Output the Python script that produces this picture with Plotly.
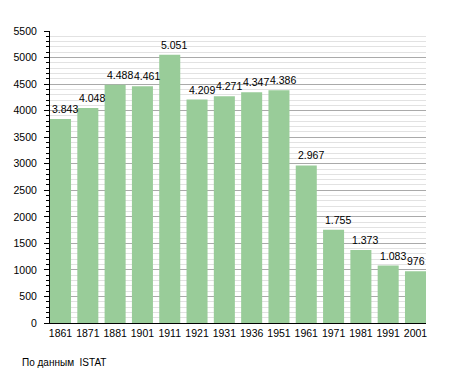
import plotly.graph_objects as go

years = ["1861", "1871", "1881", "1901", "1911", "1921", "1931", "1936",
         "1951", "1961", "1971", "1981", "1991", "2001"]
population = [3843, 4048, 4488, 4461, 5051, 4209, 4271, 4347,
              4386, 2967, 1755, 1373, 1083, 976]
value_labels = ["3.843", "4.048", "4.488", "4.461", "5.051", "4.209", "4.271", "4.347",
                "4.386", "2.967", "1.755", "1.373", "1.083", "976"]
y_ticks = list(range(0, 5501, 500))
source_note = "По данным  ISTAT"

W = 0.77
pos = list(range(len(years)))
font = "Liberation Sans, Arial, sans-serif"

# page body has an 8px margin, so the figure is drawn 8px smaller
FW, FH = 447, 365
ML, MR, MT, MB = 42, 29, 23, 50
PW, PH = FW - ML - MR, FH - MT - MB

fig = go.Figure()
fig.add_trace(go.Bar(
    x=pos, y=population, width=W,
    marker=dict(color="#99CC99", line=dict(width=0)),
    hoverinfo="skip",
))

for i, (v, lab) in enumerate(zip(population, value_labels)):
    fig.add_annotation(
        x=i - W / 2, y=v, text=lab, showarrow=False,
        xanchor="left", yanchor="bottom", xshift=0, yshift=2,
        font=dict(family=font, size=10.5, color="#000000"),
    )

fig.add_annotation(
    x=(12 - ML) / PW, y=(FH - MB - 354) / PH, xref="paper", yref="paper",
    text=source_note, showarrow=False,
    xanchor="left", yanchor="middle",
    font=dict(family=font, size=10, color="#000000"),
)

fig.update_layout(
    width=FW, height=FH,
    margin=dict(l=ML, r=MR, t=MT, b=MB, autoexpand=False),
    paper_bgcolor="white", plot_bgcolor="white",
    showlegend=False,
    font=dict(family=font, size=10, color="#000000"),
    xaxis=dict(
        range=[-W / 2, len(years) - 1 + W / 2],
        tickmode="array", tickvals=pos, ticktext=years,
        showgrid=False, zeroline=False,
        showline=True, linecolor="#000000", linewidth=1,
        ticks="", tickfont=dict(family=font, size=10.5),
        automargin=False,
        fixedrange=True,
    ),
    yaxis=dict(
        range=[0, 5500],
        tickmode="array", tickvals=y_ticks,
        showgrid=True, gridcolor="#AAAAAA", gridwidth=1,
        zeroline=False,
        showline=True, linecolor="#000000", linewidth=1,
        ticks="outside", ticklen=5, tickcolor="#000000", tickwidth=1,
        ticklabelstandoff=5,
        automargin=False,
        tickfont=dict(family=font, size=10.5),
        minor=dict(dtick=100, showgrid=True, gridcolor="#E2E2E2", gridwidth=1,
                   ticks="outside", ticklen=3, tickcolor="#000000"),
        fixedrange=True,
    ),
)

fig.write_html("out.html")
